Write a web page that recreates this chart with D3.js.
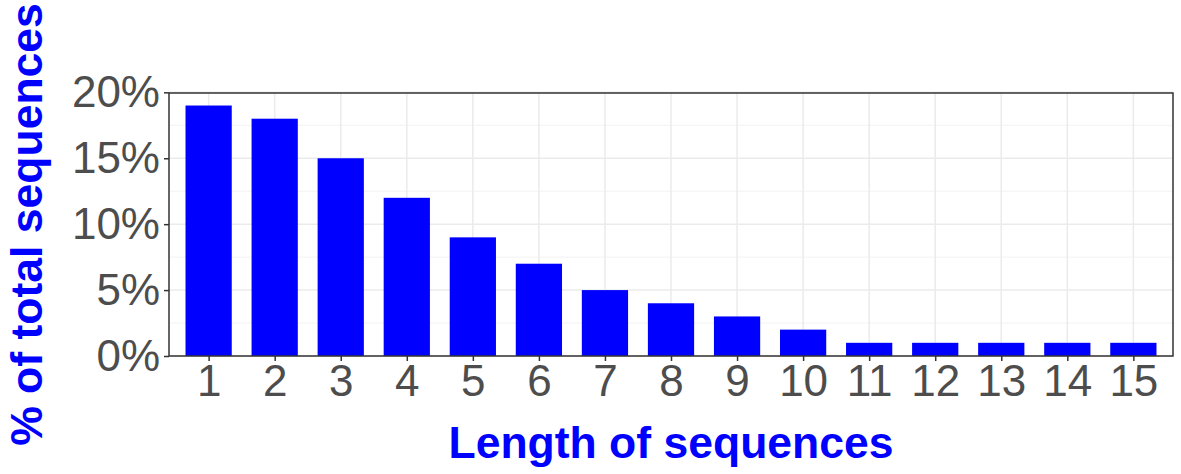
<!DOCTYPE html>
<html>
<head>
<meta charset="utf-8">
<script src="https://cdn.jsdelivr.net/npm/d3@7"></script>
<style>
  body { margin: 0; background: #fff; }
  svg text { font-family: "Liberation Sans", Arial, sans-serif; }
</style>
</head>
<body>
<div id="chart"></div>
<script>
// data
var lengths = ["1","2","3","4","5","6","7","8","9","10","11","12","13","14","15"];
var percents = [19, 18, 15, 12, 9, 7, 5, 4, 3, 2, 1, 1, 1, 1, 1];
var yTicks = [0, 5, 10, 15, 20];
var yMinor = [2.5, 7.5, 12.5, 17.5];

var W = 1181, H = 474;
var margin = {top: 93, right: 8, bottom: 118, left: 169},
    width = W - margin.left - margin.right,
    height = H - margin.top - margin.bottom;

var svg = d3.select("#chart")
  .append("svg")
    .attr("width", W)
    .attr("height", H)
  .append("g")
    .attr("transform", "translate(" + margin.left + "," + margin.top + ")");

// ggplot style discrete scale: 0.6 unit padding each side, bars 0.7 wide
var x = d3.scalePoint()
  .domain(lengths)
  .range([0, width])
  .padding(0.6);
var step = x.step();
var barW = step * 0.7;

var y = d3.scaleLinear()
  .domain([0, 19.95])
  .range([height, 0]);

// minor grid
svg.selectAll(".minor")
  .data(yMinor)
  .enter()
  .append("line")
    .attr("x1", 0).attr("x2", width)
    .attr("y1", function(d) { return y(d); })
    .attr("y2", function(d) { return y(d); })
    .attr("stroke", "#F2F2F2")
    .attr("stroke-width", 1);

// major grid
svg.selectAll(".major")
  .data(yTicks)
  .enter()
  .append("line")
    .attr("x1", 0).attr("x2", width)
    .attr("y1", function(d) { return y(d); })
    .attr("y2", function(d) { return y(d); })
    .attr("stroke", "#EBEBEB")
    .attr("stroke-width", 1.5);

svg.selectAll(".vgrid")
  .data(lengths)
  .enter()
  .append("line")
    .attr("x1", function(d) { return x(d); })
    .attr("x2", function(d) { return x(d); })
    .attr("y1", 0).attr("y2", height)
    .attr("stroke", "#EBEBEB")
    .attr("stroke-width", 1.5);

// bars
svg.selectAll(".bar")
  .data(percents)
  .enter()
  .append("rect")
    .attr("x", function(d, i) { return x(lengths[i]) - barW / 2; })
    .attr("width", barW)
    .attr("y", function(d) { return y(d); })
    .attr("height", function(d) { return y(0) - y(d); })
    .attr("fill", "#0000FF");

// panel border
svg.append("rect")
  .attr("x", 0).attr("y", 0)
  .attr("width", width).attr("height", height)
  .attr("fill", "none")
  .attr("stroke", "#333333")
  .attr("stroke-width", 1.5);

// axes
var xAxis = svg.append("g")
  .attr("transform", "translate(0," + height + ")")
  .call(d3.axisBottom(x).tickSize(5).tickPadding(4));
var yAxis = svg.append("g")
  .call(d3.axisLeft(y).tickValues(yTicks).tickSize(5).tickPadding(4)
        .tickFormat(function(d) { return d + "%"; }));

svg.selectAll(".domain").remove();
svg.selectAll(".tick line")
  .attr("stroke", "#333333")
  .attr("stroke-width", 1.5);
svg.selectAll(".tick text")
  .style("font-family", "'Liberation Sans', Arial, sans-serif")
  .style("font-size", "44px")
  .style("fill", "#4D4D4D");
xAxis.selectAll(".tick text").attr("dy", "0.71em");

// axis titles
svg.append("text")
  .attr("x", width / 2)
  .attr("y", height + 102)
  .attr("text-anchor", "middle")
  .style("font-size", "44.5px")
  .style("font-weight", "bold")
  .style("fill", "#0000FF")
  .text("Length of sequences");

svg.append("text")
  .attr("transform", "translate(" + (42 - margin.left) + "," + (height / 2) + ") rotate(-90)")
  .attr("text-anchor", "middle")
  .style("font-size", "44.5px")
  .style("font-weight", "bold")
  .style("fill", "#0000FF")
  .text("% of total sequences");
</script>
</body>
</html>
